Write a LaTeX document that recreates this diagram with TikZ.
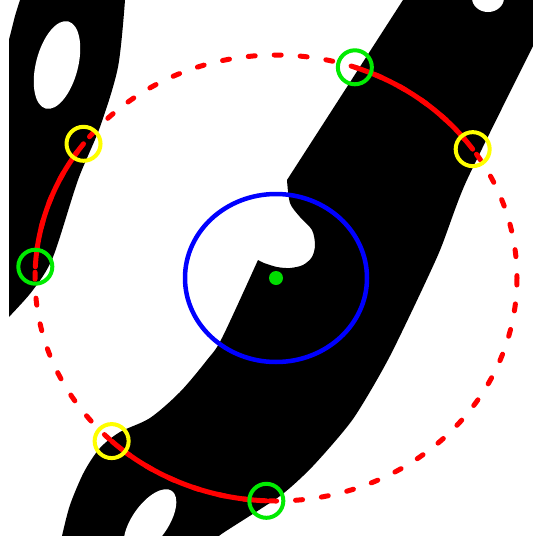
\documentclass[tikz,border=0pt]{standalone}
\usepackage{tikz}
\usetikzlibrary{calc}

\definecolor{ringyellow}{RGB}{255,255,0}
\definecolor{ringgreen}{RGB}{0,235,0}
\definecolor{dotgreen}{RGB}{0,220,0}

\begin{document}
\begin{tikzpicture}[x=1pt,y=-1pt,
  ring/.style={circle, draw, line width=4pt, minimum size=34pt, inner sep=0pt},
  sampledash/.style={red, line width=5pt, line cap=round, dash pattern=on 7pt off 19pt},
  samplearc/.style={red, line width=5pt, line cap=round}]
  \useasboundingbox (0,0) rectangle (533,536);
  \fill[white] (0,0) rectangle (533,536);

  % binary image, cut at the left margin
  \begin{scope}
    \clip (9,0) rectangle (533,536);
    % left band with its hole
    \fill[black] (21,-5) -- (127,-5) -- plot[smooth] coordinates {(125,0) (118,67) (100,127) (78,180) (53,257) (33,290) (9,317) (-5,332)}
      -- (-5,50) -- plot[smooth] coordinates {(7,47) (11,32) (15,16) (20,0)} -- cycle;
    \fill[white, rotate around={75.5:(57,65)}] (57,65) ellipse[x radius=45, y radius=21];
    % big diagonal band with the notch
    \fill[black] (403,-5) -- (540,-5) -- (540,33)
      -- plot[smooth, tension=0.4] coordinates {(533,46) (466,182) (438,255) (390,356) (353,419) (313,466) (280,496) (223,533) (215,540)}
      -- (60,545)
      -- plot[smooth, tension=0.5] coordinates {(62,536) (70,505) (84,472) (100,448) (120,432) (150,418) (180,392) (207,360) (222,338) (258,260)}
      -- plot[smooth] coordinates {(258,260) (264,263) (277,267) (290,268) (303,265) (312,257) (315,245) (312,230) (300,217) (290,203) (287,180)}
      -- (403,0) -- cycle;
    \fill[white, rotate around={55:(150,522)}] (150,522) ellipse[x radius=38, y radius=18];
    \fill[white] (488,-2) ellipse[x radius=16, y radius=14];
  \end{scope}

  % sampling ellipse round the centre pixel
  \coordinate (c) at (276,278);
  \draw[sampledash] (c) ellipse[x radius=241, y radius=223];
  \foreach \nm/\a in {g1/-70.9, y2/-35.3, y1/-143.0, g2/-177.1, y3/-227.0, g3/-267.7}
    \coordinate (\nm) at ($(c)+(\a:241 and 223)$);
  % parts that lie on black
  \draw[samplearc] (g1) arc[start angle=-70.9, end angle=-35.3, x radius=241, y radius=223];
  \draw[samplearc] (y1) arc[start angle=-143.0, end angle=-177.1, x radius=241, y radius=223];
  \draw[samplearc] (y3) arc[start angle=-227.0, end angle=-267.7, x radius=241, y radius=223];

  % inner ellipse and centre
  \draw[blue, line width=4.5pt] (c) ellipse[x radius=91, y radius=84];
  \fill[dotgreen] (c) circle[radius=7];

  % marks at the crossings
  \foreach \nm/\col in {g1/ringgreen, g2/ringgreen, g3/ringgreen, y1/ringyellow, y2/ringyellow, y3/ringyellow}
    \node[ring, draw=\col] (m-\nm) at (\nm) {};
\end{tikzpicture}
\end{document}
